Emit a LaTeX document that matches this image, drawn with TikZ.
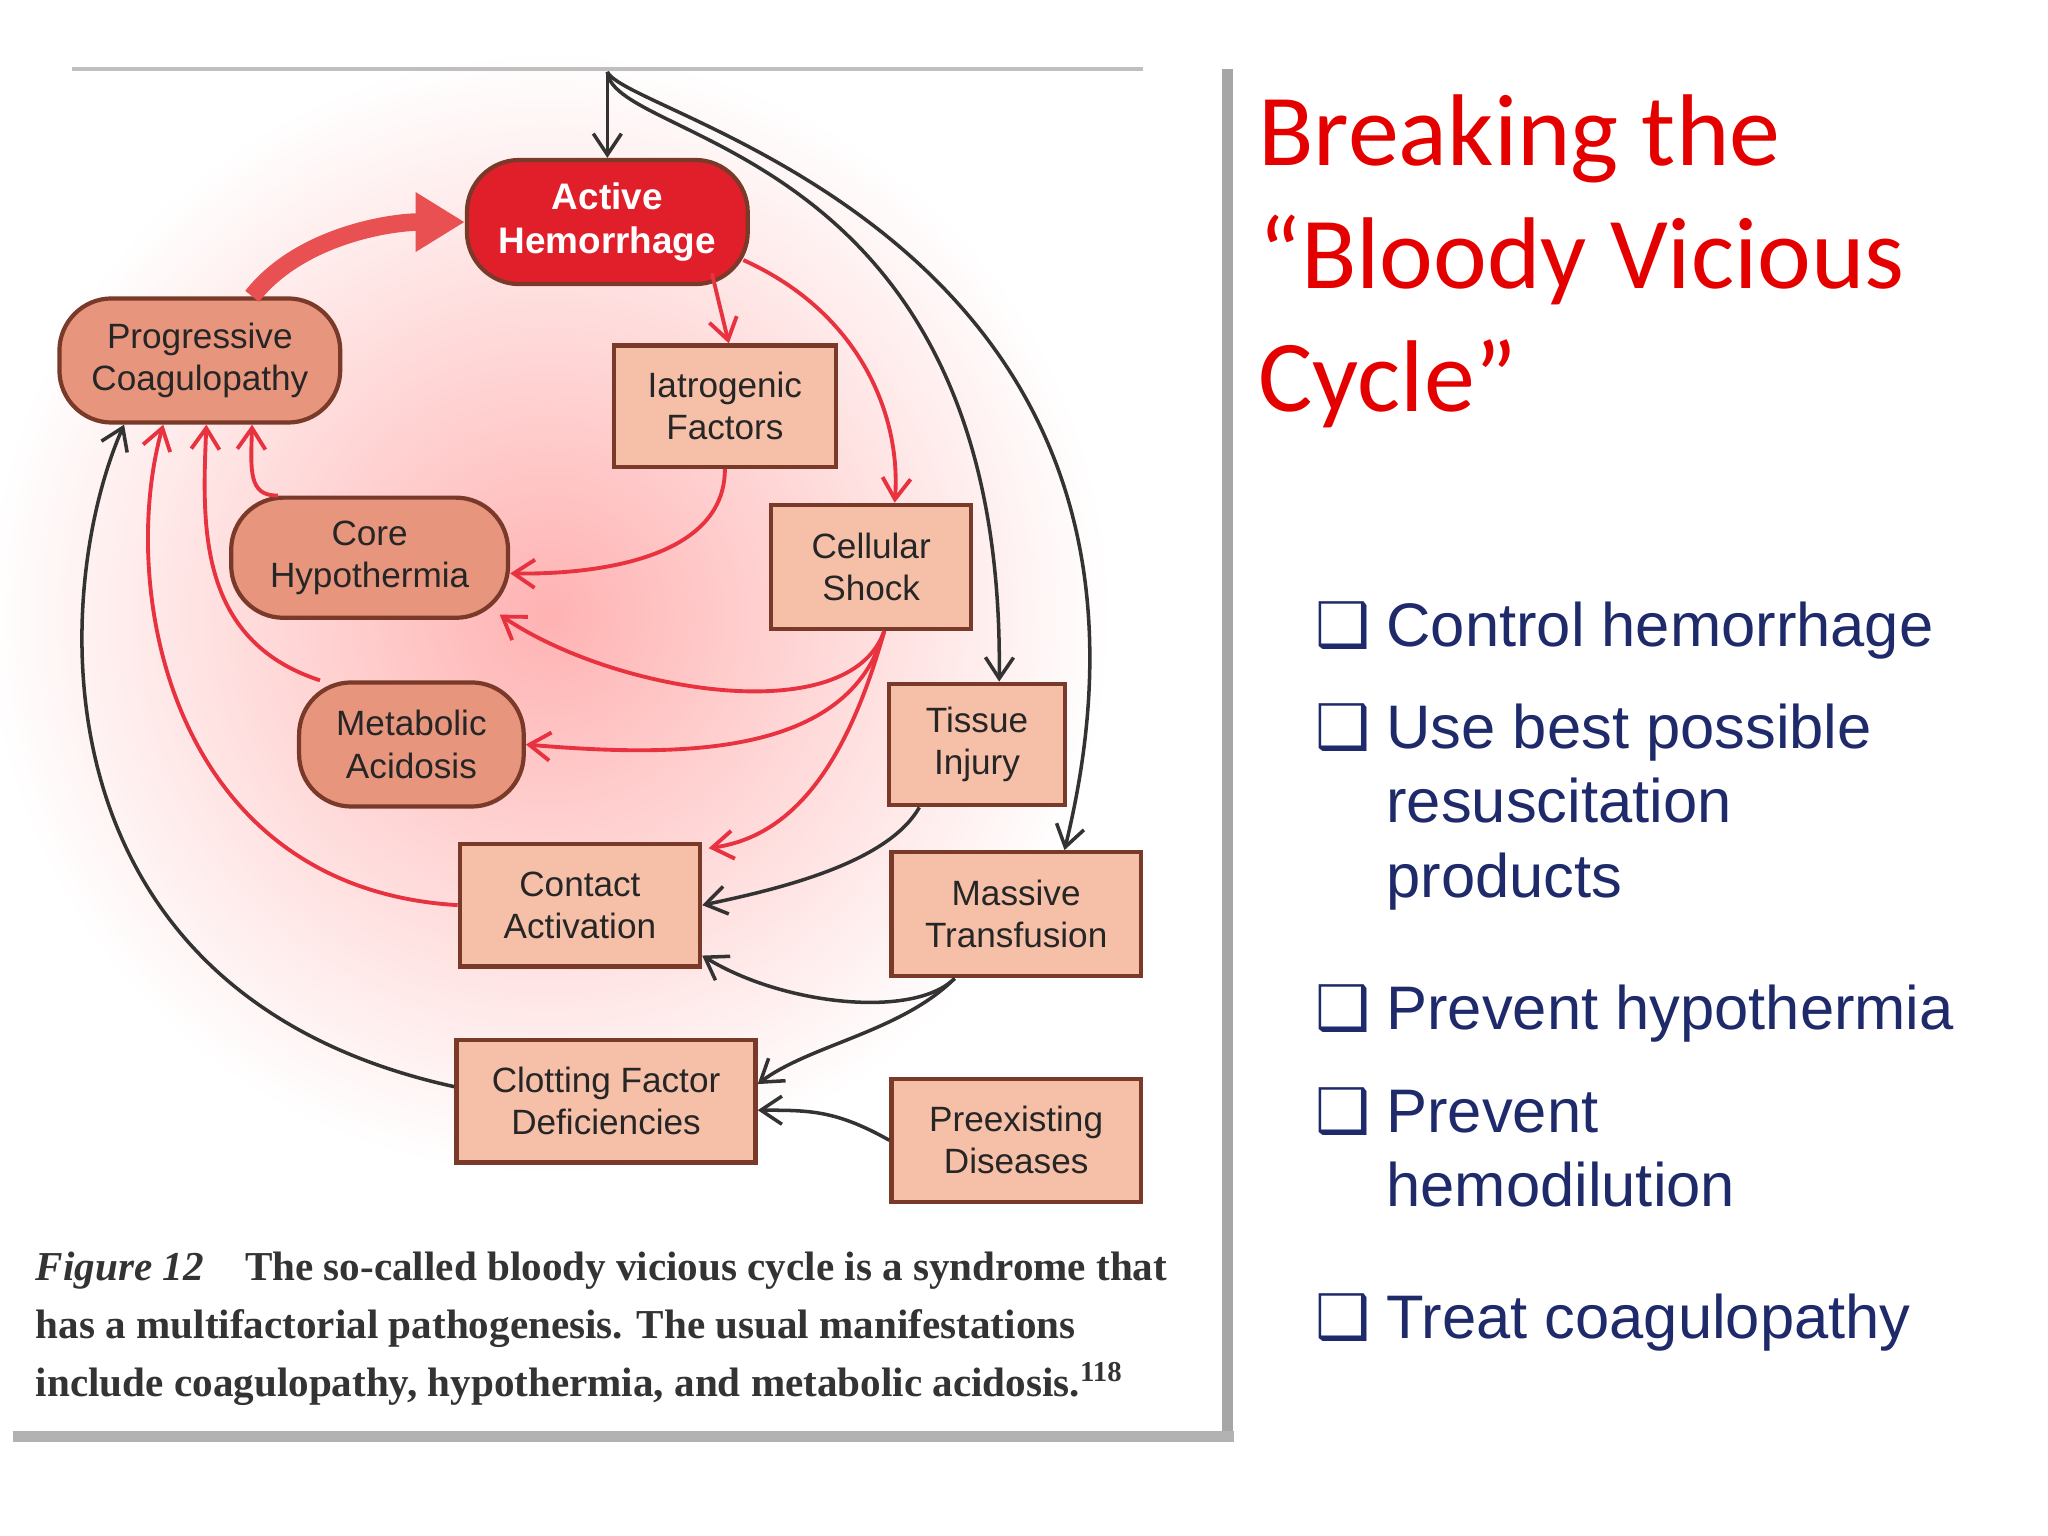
\documentclass[tikz,border=0pt]{standalone}
\usepackage{fontspec}
\setmainfont{Liberation Sans}
\newfontfamily\titlefont{Carlito}
\newfontfamily\capfont{Liberation Serif}
\newfontfamily\boxfont{DejaVu Sans}
\usetikzlibrary{positioning,arrows.meta}
\definecolor{hemred}{HTML}{E01F2B}
\definecolor{linkred}{HTML}{E8323F}
\definecolor{roundfill}{HTML}{E8957E}
\definecolor{boxfill}{HTML}{F5BFA8}
\definecolor{edgebrown}{HTML}{7A3A2A}
\definecolor{listblue}{HTML}{1F2A6B}
\newdimen\px
\px=0.01306cm
\tikzset{
    factor/.style={draw=edgebrown, line width=1.2pt, fill=boxfill, align=center,
        font=\fontsize{10}{12}\selectfont, text=black!85},
    state/.style={factor, fill=roundfill, rounded corners=40\px},
    redlink/.style={-{Straight Barb[length=6pt,width=8pt]}, linkred, line width=1.1pt},
    blacklink/.style={-{Straight Barb[length=6pt,width=8pt]}, black!80, line width=1pt},
    item/.style={anchor=base west, text=listblue, font=\fontsize{17.5}{21}\selectfont}
}
\begin{document}
\begin{tikzpicture}[x=\px, y=-\px]
    \useasboundingbox (0,0) rectangle (1568,1176);
    % background glow and frame
    \fill[white] (0,0) rectangle (1568,1176);
    \shade[inner color=red!30, outer color=white] (420,470) circle (430);
    \fill[white] (0,930) rectangle (938,1176);
    \draw[gray!50, line width=1pt] (55,53) -- (875,53);
    \draw[gray!70, line width=3pt] (940,53) -- (940,1100);
    \draw[gray!60, line width=3pt] (10,1100) -- (945,1100);
    % nodes
    \node[state, fill=hemred, text=white, minimum width=215\px, minimum height=95\px,
        font=\fontsize{10.5}{12.5}\selectfont\bfseries] (hem) at (465,170) {Active\\Hemorrhage};
    \node[state, minimum width=215\px, minimum height=95\px] (coag) at (153,276) {Progressive\\Coagulopathy};
    \node[factor, minimum width=170\px, minimum height=93\px] (iatro) at (555,311) {Iatrogenic\\Factors};
    \node[state, minimum width=212\px, minimum height=92\px] (hypo) at (283,427) {Core\\Hypothermia};
    \node[factor, minimum width=153\px, minimum height=95\px] (shock) at (667,434) {Cellular\\Shock};
    \node[state, minimum width=172\px, minimum height=95\px] (acid) at (315,570) {Metabolic\\Acidosis};
    \node[factor, minimum width=135\px, minimum height=93\px] (tissue) at (748,570) {Tissue\\Injury};
    \node[factor, minimum width=184\px, minimum height=94\px] (contact) at (444,693) {Contact\\Activation};
    \node[factor, minimum width=191\px, minimum height=95\px] (transf) at (778,700) {Massive\\Transfusion};
    \node[factor, minimum width=229\px, minimum height=94\px] (clot) at (464,843) {Clotting Factor\\Deficiencies};
    \node[factor, minimum width=191\px, minimum height=94\px] (preex) at (778,873) {Preexisting\\Diseases};
    \coordinate (entry) at (465,55);
    % black connectors
    \draw[blacklink] (entry) -- (hem.north);
    \draw[blacklink] (entry) .. controls (470,110) and (770,110) .. ([xshift=17\px]tissue.north);
    \draw[blacklink] (entry) .. controls (480,90) and (930,180) .. ([xshift=37\px]transf.north);
    \draw[blacklink] (tissue.south west) ++(25,0) .. controls (680,660) and (600,680) .. (contact.east);
    \draw[blacklink] (transf.south west) ++(50,0) .. controls (700,780) and (600,770) .. ([yshift=10\px]contact.south east);
    \draw[blacklink] (transf.south west) ++(50,0) .. controls (690,790) and (620,800) .. ([yshift=13\px]clot.east);
    \draw[blacklink] (preex.west) .. controls (640,850) and (620,850) .. ([yshift=-7\px]clot.east);
    \draw[blacklink] ([yshift=11\px]clot.west) .. controls (20,760) and (40,450) .. ([xshift=-58\px]coag.south);
    % red connectors
    \draw[linkred!70!roundfill, line width=5pt, -{Triangle[length=14pt,width=16pt]}]
        ([xshift=40\px]coag.north) .. controls (230,180) and (300,170) .. (hem.west);
    \draw[redlink] (hem.south) ++(80,-10) -- ([xshift=3\px]iatro.north);
    \draw[redlink] (hem.south east) ++(-5,-20) .. controls (660,240) and (690,320) .. ([xshift=18\px]shock.north);
    \draw[redlink] (iatro.south) .. controls (555,430) and (450,440) .. ([yshift=-12\px]hypo.east);
    \draw[redlink] ([xshift=10\px]shock.south) .. controls (650,560) and (470,530) .. ([xshift=-8\px,yshift=4\px]hypo.south east);
    \draw[redlink] ([xshift=10\px]shock.south) .. controls (650,580) and (520,580) .. (acid.east);
    \draw[redlink] ([xshift=10\px]shock.south) .. controls (650,580) and (610,640) .. ([xshift=5\px,yshift=-5\px]contact.north east);
    \draw[redlink] ([xshift=-70\px]hypo.north) .. controls (190,380) and (192,360) .. ([xshift=40\px]coag.south);
    \draw[redlink] ([xshift=-70\px]acid.north) .. controls (150,490) and (155,400) .. ([xshift=5\px]coag.south);
    \draw[redlink] (contact.west) .. controls (130,680) and (90,450) .. ([xshift=-28\px]coag.south);
    % caption
    \node[anchor=north west, align=left, inner sep=0pt, font=\capfont\bfseries\fontsize{11.7}{16.5}\selectfont, text=black!80]
        (caption) at (27,958) {\textit{Figure 12}\quad The so-called bloody vicious cycle is a syndrome that\\
        has a multifactorial pathogenesis. The usual manifestations\\
        include coagulopathy, hypothermia, and metabolic acidosis.\textsuperscript{118}};
    % title and list
    \node[anchor=north west, align=left, text=red!90!black, font=\titlefont\fontsize{29}{35}\selectfont,
        inner sep=0pt] (title) at (963,72) {Breaking the\\“Bloody Vicious\\Cycle”};
    \foreach \ypos/\words in {495/Control hemorrhage, 573/Use best possible, 630/resuscitation,
        687/products, 788/Prevent hypothermia, 867/Prevent, 924/hemodilution, 1025/Treat coagulopathy}
        \node[item] at (1052,\ypos) {\words};
    \foreach \ypos in {495,573,788,867,1025}
        \node[anchor=base west, text=listblue, font=\boxfont\fontsize{17.5}{21}\selectfont] at (998,\ypos) {❑};
\end{tikzpicture}
\end{document}
